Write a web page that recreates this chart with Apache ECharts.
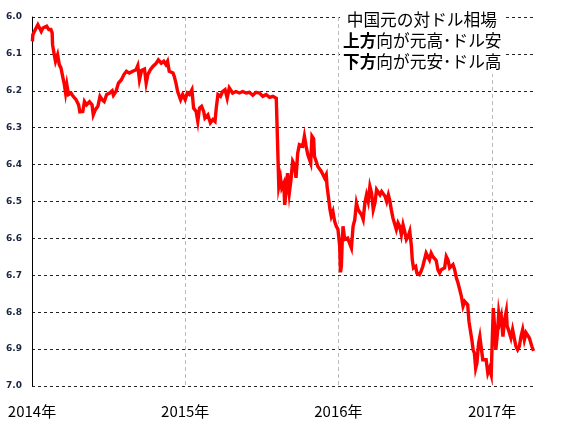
<!DOCTYPE html>
<html>
<head>
<meta charset="utf-8">
<script src="https://cdn.jsdelivr.net/npm/echarts@6/dist/echarts.min.js"></script>
<style>html,body{margin:0;padding:0;background:#fff}#c{width:567px;height:428px}</style>
</head>
<body>
<div id="c"></div>
<script>
const titleLines = [' 中国元の対ドル相場', '上方', '向が元高･ドル安', '下方', '向が元安･ドル高'];
const yearLabelSuffix = '年';
const yTicks = [6.0, 6.1, 6.2, 6.3, 6.4, 6.5, 6.6, 6.7, 6.8, 6.9, 7.0];
const xRange = ['2014-01-01', '2017-04-11'];

const dates2014 = ['2014-01-02','2014-01-03','2014-01-09','2014-01-15','2014-01-19','2014-01-23','2014-01-27','2014-01-31','2014-02-05','2014-02-10','2014-02-15','2014-02-18','2014-02-19','2014-02-23','2014-02-26','2014-03-03','2014-03-07','2014-03-11','2014-03-15','2014-03-19','2014-03-22','2014-03-25','2014-03-29','2014-04-04','2014-04-09','2014-04-16','2014-04-22','2014-04-25','2014-05-02','2014-05-06','2014-05-11','2014-05-18','2014-05-24','2014-05-27','2014-06-01','2014-06-07','2014-06-12','2014-06-17','2014-06-22','2014-06-28','2014-07-05','2014-07-11','2014-07-14','2014-07-20','2014-07-26','2014-08-02','2014-08-08','2014-08-14','2014-08-21','2014-08-29','2014-09-06','2014-09-10','2014-09-14','2014-09-19','2014-09-26','2014-09-30','2014-10-04','2014-10-10','2014-10-16','2014-10-24','2014-10-29','2014-11-05','2014-11-11','2014-11-16','2014-11-20','2014-11-24','2014-12-03','2014-12-06','2014-12-10','2014-12-14','2014-12-21','2014-12-26'];
const values2014 = [6.066,6.048,6.034,6.021,6.030,6.039,6.030,6.034,6.025,6.034,6.034,6.043,6.075,6.102,6.120,6.102,6.129,6.138,6.161,6.183,6.206,6.183,6.210,6.206,6.215,6.224,6.238,6.257,6.256,6.229,6.238,6.230,6.238,6.265,6.251,6.242,6.215,6.224,6.229,6.210,6.206,6.200,6.212,6.202,6.179,6.170,6.156,6.147,6.152,6.147,6.143,6.132,6.170,6.145,6.141,6.179,6.156,6.143,6.134,6.125,6.116,6.125,6.120,6.129,6.120,6.147,6.152,6.161,6.179,6.202,6.224,6.210];

const dates2015 = ['2015-01-01','2015-01-06','2015-01-11','2015-01-17','2015-01-21','2015-01-23','2015-01-27','2015-01-31','2015-02-04','2015-02-09','2015-02-14','2015-02-17','2015-02-24','2015-03-02','2015-03-08','2015-03-13','2015-03-16','2015-03-20','2015-03-26','2015-03-31','2015-04-06','2015-04-11','2015-04-16','2015-04-24','2015-05-02','2015-05-10','2015-05-18','2015-05-26','2015-06-03','2015-06-11','2015-06-19','2015-06-27','2015-07-05','2015-07-13','2015-07-21','2015-07-29','2015-08-06','2015-08-09','2015-08-12','2015-08-16','2015-08-19','2015-08-24','2015-08-26','2015-08-30','2015-09-02','2015-09-06','2015-09-10','2015-09-14','2015-09-18','2015-09-22','2015-09-26','2015-09-30','2015-10-04','2015-10-08','2015-10-12','2015-10-16','2015-10-20','2015-10-24','2015-10-27','2015-10-30','2015-11-03','2015-11-05','2015-11-09','2015-11-13','2015-11-17','2015-11-21','2015-11-25','2015-11-29','2015-12-03','2015-12-05','2015-12-08','2015-12-12','2015-12-15','2015-12-19','2015-12-23','2015-12-27','2015-12-31'];
const values2015 = [6.224,6.206,6.210,6.197,6.247,6.247,6.256,6.283,6.247,6.242,6.256,6.274,6.265,6.287,6.278,6.283,6.247,6.210,6.215,6.202,6.197,6.220,6.192,6.206,6.202,6.206,6.202,6.206,6.204,6.212,6.204,6.206,6.215,6.210,6.218,6.215,6.220,6.220,6.459,6.436,6.463,6.450,6.509,6.468,6.423,6.477,6.441,6.391,6.400,6.436,6.369,6.346,6.341,6.350,6.323,6.350,6.373,6.370,6.396,6.323,6.330,6.378,6.391,6.405,6.400,6.418,6.427,6.436,6.427,6.459,6.486,6.522,6.540,6.527,6.554,6.567,6.576];

const dates2016 = ['2016-01-04','2016-01-06','2016-01-08','2016-01-10','2016-01-12','2016-01-16','2016-01-20','2016-01-23','2016-01-27','2016-02-01','2016-02-05','2016-02-09','2016-02-13','2016-02-17','2016-02-21','2016-02-25','2016-02-29','2016-03-04','2016-03-08','2016-03-12','2016-03-16','2016-03-20','2016-03-24','2016-03-28','2016-04-01','2016-04-05','2016-04-09','2016-04-13','2016-04-17','2016-04-21','2016-04-25','2016-04-29','2016-05-02','2016-05-06','2016-05-10','2016-05-14','2016-05-18','2016-05-22','2016-05-26','2016-05-30','2016-06-03','2016-06-07','2016-06-11','2016-06-15','2016-06-19','2016-06-23','2016-06-25','2016-06-28','2016-07-03','2016-07-06','2016-07-12','2016-07-16','2016-07-20','2016-07-24','2016-07-28','2016-08-01','2016-08-05','2016-08-09','2016-08-13','2016-08-17','2016-08-21','2016-08-25','2016-08-29','2016-09-02','2016-09-06','2016-09-10','2016-09-14','2016-09-18','2016-09-22','2016-09-26','2016-09-30','2016-10-04','2016-10-08','2016-10-12','2016-10-16','2016-10-20','2016-10-24','2016-10-28','2016-11-01','2016-11-04','2016-11-07','2016-11-11','2016-11-14','2016-11-17','2016-11-20','2016-11-23','2016-11-26','2016-11-30','2016-12-03','2016-12-06','2016-12-10','2016-12-14','2016-12-18','2016-12-22','2016-12-26','2016-12-30'];
const values2016 = [6.620,6.692,6.676,6.612,6.567,6.603,6.608,6.599,6.595,6.626,6.567,6.549,6.504,6.522,6.527,6.536,6.549,6.504,6.482,6.500,6.459,6.477,6.522,6.504,6.468,6.473,6.482,6.473,6.468,6.486,6.500,6.482,6.495,6.522,6.545,6.549,6.576,6.558,6.567,6.590,6.563,6.581,6.603,6.595,6.581,6.622,6.658,6.680,6.676,6.694,6.698,6.689,6.676,6.672,6.640,6.636,6.658,6.640,6.649,6.645,6.660,6.685,6.694,6.685,6.689,6.680,6.649,6.658,6.680,6.680,6.671,6.685,6.707,6.721,6.739,6.757,6.784,6.771,6.766,6.780,6.825,6.829,6.875,6.902,6.911,6.952,6.938,6.884,6.866,6.893,6.929,6.924,6.929,6.965,6.952,6.969];

const dates2017 = ['2017-01-02','2017-01-04','2017-01-07','2017-01-10','2017-01-14','2017-01-17','2017-01-20','2017-01-23','2017-01-27','2017-01-31','2017-02-04','2017-02-06','2017-02-09','2017-02-12','2017-02-15','2017-02-19','2017-02-23','2017-02-27','2017-03-03','2017-03-07','2017-03-11','2017-03-15','2017-03-19','2017-03-23','2017-03-27','2017-03-31','2017-04-04','2017-04-06','2017-04-10'];
const values2017 = [6.974,6.789,6.838,6.902,6.856,6.802,6.825,6.811,6.866,6.820,6.797,6.838,6.847,6.843,6.870,6.847,6.852,6.893,6.902,6.893,6.866,6.847,6.875,6.856,6.852,6.870,6.875,6.893,6.905];

const dates = [].concat(dates2014, dates2015, dates2016, dates2017);
const values = [].concat(values2014, values2015, values2016, values2017);
const seriesData = dates.map((d, i) => [d, values[i]]);

const FONT = '"Noto Sans CJK JP", "Noto Sans", sans-serif';
const chart = echarts.init(document.getElementById('c'), null, {renderer: 'canvas'});
chart.setOption({
  animation: false,
  backgroundColor: '#fff',
  title: {
    left: 340,
    top: 8,
    backgroundColor: '#fff',
    padding: [1, 3, 2, 3],
    text: '{n|' + titleLines[0] + '}\n{b|' + titleLines[1] + '}{n|' + titleLines[2] + '}\n{b|' + titleLines[3] + '}{n|' + titleLines[4] + '}',
    textStyle: {
      fontFamily: FONT,
      fontSize: 16.7,
      lineHeight: 21,
      color: '#000',
      fontWeight: 'normal',
      rich: {
        n: {fontFamily: FONT, fontSize: 16.7, lineHeight: 21, color: '#000', fontWeight: 'normal'},
        b: {fontFamily: FONT, fontSize: 16.7, lineHeight: 21, color: '#000', fontWeight: 'bold'}
      }
    },
    z: 10
  },
  grid: {left: 32, right: 33, top: 17, bottom: 42, containLabel: false},
  xAxis: {
    type: 'time',
    min: xRange[0],
    max: xRange[1],
    minInterval: 365 * 24 * 3600 * 1000,
    axisLine: {show: false},
    axisTick: {show: false},
    axisLabel: {
      fontFamily: FONT,
      fontSize: 15,
      color: '#000',
      margin: 18,
      showMaxLabel: false,
      formatter: function (v) { return new Date(v).getFullYear() + yearLabelSuffix; }
    },
    splitLine: {show: true, showMinLine: false, showMaxLine: false, lineStyle: {color: '#bbbbbb', type: [4, 3], width: 1}}
  },
  yAxis: {
    type: 'value',
    inverse: true,
    min: yTicks[0],
    max: yTicks[yTicks.length - 1],
    interval: 0.1,
    axisLine: {show: true, onZero: false, lineStyle: {color: '#000', width: 1}},
    axisTick: {show: false},
    axisLabel: {
      fontFamily: '"DejaVu Sans", sans-serif',
      fontSize: 9,
      fontWeight: 'bold',
      color: '#1a2440',
      margin: 10,
      formatter: function (v) { return v.toFixed(1); }
    },
    splitLine: {show: true, lineStyle: {color: '#222', type: [3, 3], width: 1}}
  },
  series: [{
    type: 'line',
    data: seriesData,
    showSymbol: false,
    symbol: 'none',
    lineStyle: {color: '#ff0000', width: 3.4, join: 'miter'},
    itemStyle: {color: '#ff0000'},
    z: 3
  }]
});
</script>
</body>
</html>
